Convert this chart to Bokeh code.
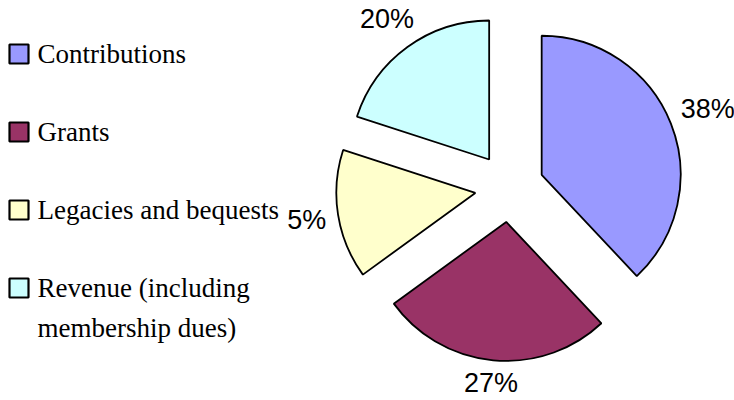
import numpy as np
from bokeh.plotting import figure
from bokeh.models import Range1d
from bokeh.core.properties import value
from bokeh.embed import file_html
from bokeh.resources import INLINE

# ---- data ----
categories = ["Contributions", "Grants", "Legacies and bequests",
              "Revenue (including\nmembership dues)"]
values = [38, 27, 15, 20]
labels = ["38%", "27%", "5%", "20%"]
colors = ["#9999FF", "#993366", "#FFFFCC", "#CCFFFF"]

# ---- layout (pixel-like data units) ----
W, H = 734, 400
CX, CY = 509, 213       # pie centre
R = 139                 # radius
D = 34.6                # explode distance
LG = 11                 # label gap
FS = 27                 # label font size

p = figure(width=W, height=H, x_range=Range1d(0, W), y_range=Range1d(0, H),
           output_backend="svg", toolbar_location=None, min_border=0,
           x_axis_location=None, y_axis_location=None)
p.grid.visible = False
p.outline_line_color = None

vals = np.array(values, dtype=float)
cum = np.concatenate([[0], np.cumsum(vals)]) / vals.sum() * 360.0
start_c = cum[:-1]
end_c = cum[1:]
mid = np.radians((start_c + end_c) / 2)
sx = CX + D * np.sin(mid)
sy = CY + D * np.cos(mid)

p.wedge(x=sx, y=sy, radius=R, start_angle=np.radians(90 - end_c),
        end_angle=np.radians(90 - start_c),
        fill_color=colors, line_color="black", line_width=1.8)

# labels outside each slice
for i, lab in enumerate(labels):
    ndig = len(lab) - 1
    w = FS * (0.556 * ndig + 0.889)
    h = FS * 0.716
    s, c = np.sin(mid[i]), np.cos(mid[i])
    dist = R + LG + abs(w / 2 * s) + abs(h / 2 * c)
    p.text(x=[sx[i] + dist * s], y=[sy[i] + dist * c], text=[lab],
           text_font=value("Liberation Sans"), text_font_size=f"{FS}px",
           text_align="center", text_baseline="middle", text_color="black")

# legend
LX = 9          # square left
SQ = 19         # square size
TOP = 337       # bottom of first square
STEP = 78
LINE = 40       # line spacing of wrapped legend text
TOFF = 10       # text baseline correction
ys = [TOP - i * STEP for i in range(len(categories))]
p.rect(x=[LX + SQ / 2] * len(categories), y=[y + SQ / 2 for y in ys],
       width=SQ, height=SQ, fill_color=colors, line_color="black", line_width=2.2)
tx, ty, tt = [], [], []
for y, cat in zip(ys, categories):
    for k, line in enumerate(cat.split("\n")):
        tx.append(LX + SQ + 9)
        ty.append(y + TOFF - k * LINE)
        tt.append(line)
p.text(x=tx, y=ty, text=tt,
       text_font=value("Liberation Serif"), text_font_size="27px",
       text_align="left", text_baseline="alphabetic", text_color="black")

open("out.html", "w").write(file_html(p, INLINE))
